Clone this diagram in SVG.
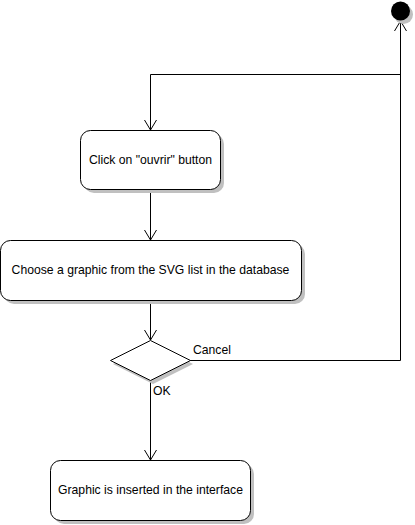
<svg xmlns="http://www.w3.org/2000/svg" width="415" height="525" viewBox="0 0 415 525">
<defs>
<marker id="arr" viewBox="0 0 10 16" refX="10" refY="8" markerWidth="10" markerHeight="16" markerUnits="userSpaceOnUse" orient="auto">
<path d="M0,2 L10,8 L0,14" fill="none" stroke="#000" stroke-width="1"/>
</marker>
</defs>
<style>
.box{fill:#fff;stroke:#000;stroke-width:1}
.sh{fill:#c0c0c0;stroke:none}
.lbl{font-family:"Liberation Sans",Arial,sans-serif;font-size:12.2px;fill:#000}
.c{text-anchor:middle}
.ln{fill:none;stroke:#000;stroke-width:1;marker-end:url(#arr)}
.pl{fill:none;stroke:#000;stroke-width:1}
</style>
<rect width="415" height="525" fill="#fff"/>
<g id="connectors">
<path class="ln" d="M400.5,360.5 L400.5,21"/>
<path class="ln" d="M400.5,74.5 L150.5,74.5 L150.5,130"/>
<path class="ln" d="M150.5,189 L150.5,240"/>
<path class="ln" d="M150.5,300 L150.5,340"/>
<path class="pl" d="M190,360.5 L400.5,360.5"/>
<path class="ln" d="M150.5,380 L150.5,460"/>
<text class="lbl" x="193" y="354">Cancel</text>
<text class="lbl" x="153" y="395">OK</text>
</g>
<g id="start">
<circle class="sh" cx="403.5" cy="14.5" r="9.5"/>
<circle cx="400.5" cy="11" r="9.5" fill="#000"/>
</g>
<g id="n1">
<rect class="sh" x="84" y="134" width="140" height="59" rx="10"/>
<rect class="box" x="80.5" y="130.5" width="140" height="59" rx="10"/>
<text class="lbl c" x="150.5" y="164">Click on "ouvrir" button</text>
</g>
<g id="n2">
<rect class="sh" x="4" y="244" width="301" height="60" rx="10"/>
<rect class="box" x="0.5" y="240.5" width="301" height="60" rx="10"/>
<text class="lbl c" x="150.5" y="274">Choose a graphic from the SVG list in the database</text>
</g>
<g id="decision">
<polygon class="sh" points="153,344 193,364 153,384 113,364"/>
<polygon class="box" points="150.5,340.5 190.5,360.5 150.5,380.5 110.5,360.5"/>
</g>
<g id="n3">
<rect class="sh" x="54" y="464" width="200" height="60" rx="10"/>
<rect class="box" x="50.5" y="460.5" width="200" height="60" rx="10"/>
<text class="lbl c" x="150.5" y="494">Graphic is inserted in the interface</text>
</g>
</svg>
